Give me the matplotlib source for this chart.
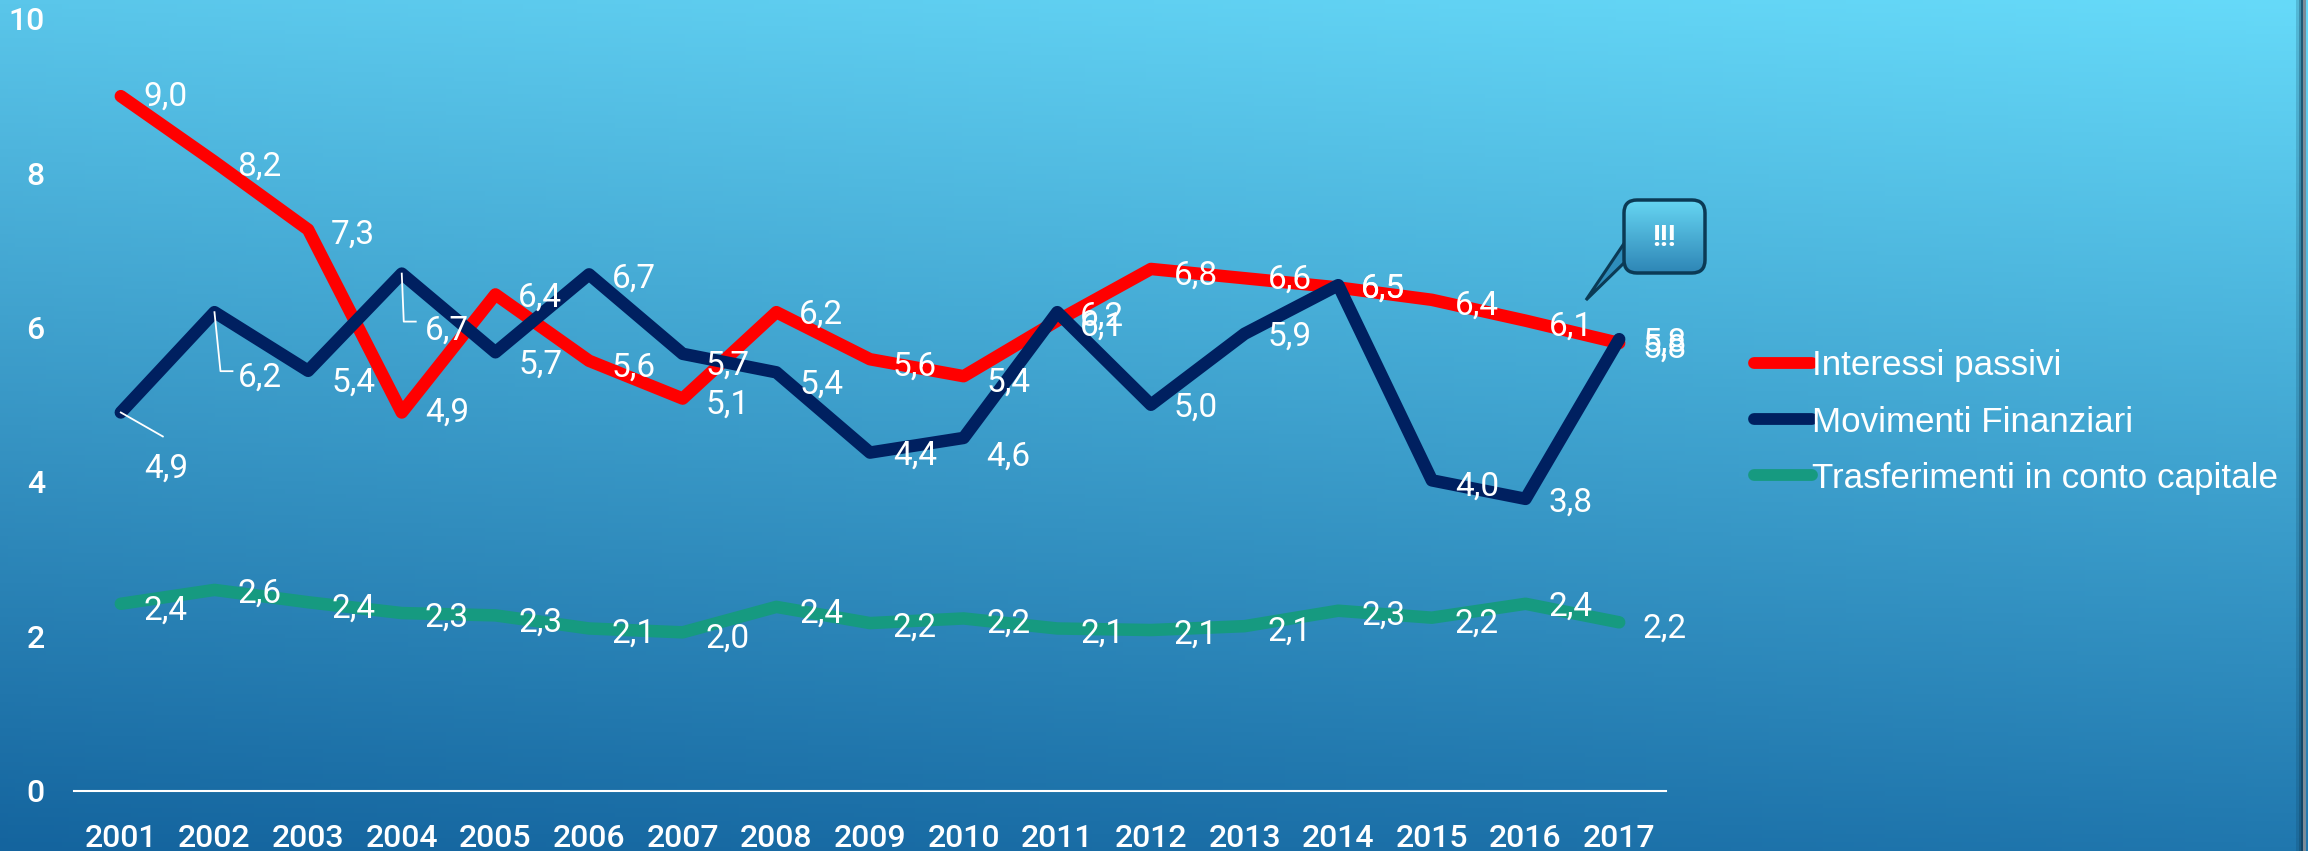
import numpy as np
import matplotlib
matplotlib.use('Agg')
import matplotlib.pyplot as plt
from matplotlib.lines import Line2D
from matplotlib.patches import FancyBboxPatch, Polygon

years = list(range(2001, 2018))
interessi = [9.0, 8.15, 7.27, 4.9, 6.43, 5.57, 5.08, 6.2, 5.59, 5.37, 6.09, 6.76, 6.64, 6.52, 6.36, 6.09, 5.8]
movimenti = [4.9, 6.2, 5.44, 6.7, 5.68, 6.69, 5.66, 5.42, 4.38, 4.57, 6.2, 5.0, 5.92, 6.55, 4.02, 3.78, 5.85]
trasferimenti = [2.42, 2.6, 2.44, 2.3, 2.27, 2.1, 2.05, 2.38, 2.17, 2.23, 2.1, 2.08, 2.13, 2.33, 2.24, 2.42, 2.18]

# label offsets in full size pixels, above the point
int_dy = [-1, -5, -5, 0, -3, -7, -6, -2, -7, -6, -6, -7, -1, -1, -6, -6, -6]
mov_dy = [-56, -65, -12, -57, -12, -4, -12, -12, -3, -19, -4, -3, -3, -3, -6, -4, -3]
tra_dy = [-7, -4, -6, -5, -7, -5, -6, -7, -5, -5, -5, -5, -5, -5, -6, -3, -6]
label_dx = 45

W, H = 2308, 851
plt.rcParams['font.family'] = ['Roboto', 'DejaVu Sans']
fig = plt.figure(figsize=(W / 100, H / 100), dpi=100)

# background gradient, brighter on the right
bg = fig.add_axes([0, 0, 1, 1], zorder=0)
yy, xx = np.mgrid[0:1:200j, 0:1:300j]
tl = np.array([0x5A, 0xC6, 0xEA]) / 255
tr = np.array([0x66, 0xDA, 0xF9]) / 255
bl = np.array([0x14, 0x64, 0x9E]) / 255
br = np.array([0x20, 0x77, 0xAE]) / 255
xx = xx[..., None]
yy = yy[..., None]
img = (tl * (1 - xx) + tr * xx) * (1 - yy) + (bl * (1 - xx) + br * xx) * yy
bg.imshow(img, aspect='auto', extent=[0, 1, 0, 1], origin='upper')
bg.axis('off')

ax = fig.add_axes([74 / W, 1 - 790.5 / H, (1666 - 74) / W, 771.5 / H], zorder=1)
ax.patch.set_alpha(0)
ax.set_xlim(2000.5, 2017.5)
ax.set_ylim(0, 10)

series = [
    ('Interessi passivi', interessi, '#FF0000', int_dy),
    ('Movimenti Finanziari', movimenti, '#002060', mov_dy),
    ('Trasferimenti in conto capitale', trasferimenti, '#169A80', tra_dy),
]
for name, vals, col, dys in series:
    ax.plot(years, vals, color=col, lw=9, solid_capstyle='round', solid_joinstyle='round',
            label=name, zorder=3 if col != '#FF0000' else 2)

for name, vals, col, dys in series:
    for y, v, dy in zip(years, vals, dys):
        ax.annotate(f'{v:.1f}'.replace('.', ','), (y, v), xytext=(label_dx, dy), textcoords='offset pixels',
                    color='white', fontsize=24, ha='center', va='center', zorder=5)

for s in ['top', 'right', 'left']:
    ax.spines[s].set_visible(False)
ax.spines['bottom'].set_color('white')
ax.spines['bottom'].set_linewidth(1.5)
ax.set_xticks(years)
ax.set_yticks([0, 2, 4, 6, 8, 10])
ax.tick_params(length=0, colors='white', labelsize=23, pad=24)
ax.tick_params(axis='y', pad=21)
for l in ax.get_xticklabels() + ax.get_yticklabels():
    l.set_fontweight('medium')

# leader lines of the moved labels, offsets in pixels from the point
leaders = {0: [(0, 0), (42, -24)], 1: [(0, 0), (6, -59), (18, -59)], 3: [(0, 0), (2, -48), (14, -48)]}
fig.canvas.draw()
for i, offs in leaders.items():
    px, py = ax.transData.transform((years[i], movimenti[i]))
    fig.add_artist(Line2D([px + o[0] for o in offs], [py + o[1] for o in offs], color='white', lw=1.3,
                          transform=None, zorder=6))

# legend
handles = [Line2D([], [], color=c, lw=8.5, solid_capstyle='round') for _, _, c, _ in series]
labels = [s[0] for s in series]
fig.legend(handles, labels, loc='center left', bbox_to_anchor=(1754 / W, 1 - 422 / H), frameon=False,
           prop={'family': 'Liberation Sans', 'size': 25.2}, labelcolor='white', handlelength=1.65,
           handletextpad=0.0, labelspacing=0.66, borderpad=0, borderaxespad=0)

# callout and right border drawn in pixels
ov = fig.add_axes([0, 0, 1, 1], zorder=2)
ov.set_xlim(0, W)
ov.set_ylim(H, 0)
ov.axis('off')
tail = Polygon([[1625, 242], [1586, 300], [1625, 262]], closed=True, fc='#2E8DBB', ec='#0B3A55', lw=2.2,
               joinstyle='miter', zorder=2)
ov.add_patch(tail)
box = FancyBboxPatch((1624, 200), 81, 73, boxstyle='round,pad=0,rounding_size=13', ec='#0B3A55', fc='none',
                     lw=2.5, zorder=4)
ov.add_patch(box)
grad = ov.imshow(np.linspace(0, 1, 64)[:, None], cmap=matplotlib.colors.LinearSegmentedColormap.from_list('c', ['#66D5F2', '#2E86B6']),
                 extent=[1624, 1705, 273, 200], aspect='auto', zorder=3)
grad.set_clip_path(box)
ov.set_xlim(0, W)
ov.set_ylim(H, 0)
ov.text(1664, 238, '!!!', color='white', fontsize=21, fontweight='bold', ha='center', va='center', zorder=5)

ov.axvspan(2296, 2299, color='#0E3A55', alpha=0.2, lw=0)
ov.axvspan(2299, 2301, color='#0E3A55', alpha=0.45, lw=0)
ov.axvspan(2301, 2303, color='#0E3A55', alpha=0.8, lw=0)
ov.axvspan(2303, 2306, color='#7A8C99', lw=0)

fig.savefig('out.png', dpi=100)
